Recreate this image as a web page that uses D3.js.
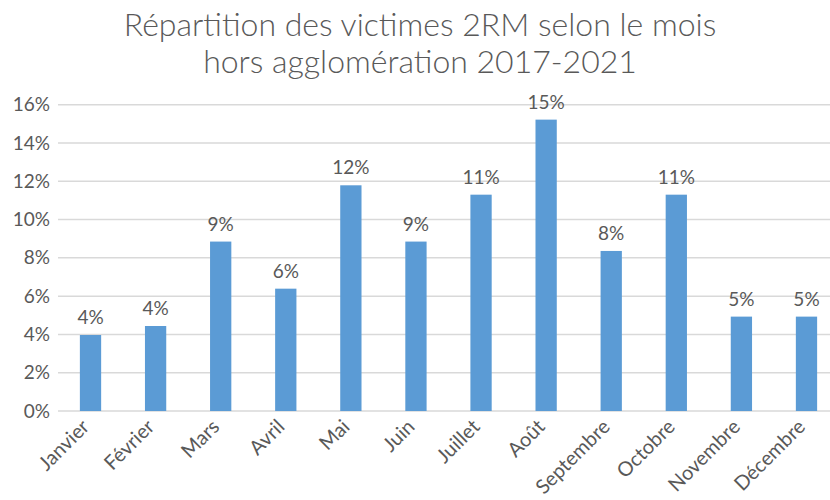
<!DOCTYPE html>
<html>
<head>
<meta charset="utf-8">
<script src="https://cdn.jsdelivr.net/npm/d3@7"></script>
<style>
  body { margin: 0; background: #fff; }
  svg text { font-family: Lato, "Open Sans", sans-serif; fill: #595959; }
</style>
</head>
<body>
<div class="chart"></div>
<script>
var months = ["Janvier", "Février", "Mars", "Avril", "Mai", "Juin", "Juillet", "Août",
  "Septembre", "Octobre", "Novembre", "Décembre"];
var shares = [3.97, 4.44, 8.85, 6.39, 11.79, 8.85, 11.3, 15.22, 8.36, 11.3, 4.93, 4.93];
var yTicks = [0, 2, 4, 6, 8, 10, 12, 14, 16];
var titleLines = ["Répartition des victimes 2RM selon le mois", "hors agglomération 2017-2021"];

var svgWidth = 830;
var svgHeight = 500;

var svg = d3.select(".chart")
  .append("svg")
  .attr("width", svgWidth)
  .attr("height", svgHeight);

// plot area runs past the right edge, like the cropped original
var xScale = d3.scaleBand()
  .domain(months)
  .range([58, 839])
  .paddingInner(0.673)
  .paddingOuter(0.336);

var yScale = d3.scaleLinear()
  .domain([0, 16])
  .range([411, 104.7]);

// title
svg.append("text")
  .attr("x", 420)
  .attr("y", 36)
  .attr("text-anchor", "middle")
  .attr("font-size", "32px")
  .attr("font-weight", 300)
  .selectAll("tspan")
  .data(titleLines)
  .enter()
  .append("tspan")
  .attr("x", 420)
  .attr("dy", (d, i) => i === 0 ? 0 : 37)
  .text(d => d);

// gridlines
svg.append("g")
  .selectAll("line")
  .data(yTicks)
  .enter()
  .append("line")
  .attr("x1", 58)
  .attr("x2", 839)
  .attr("y1", d => yScale(d))
  .attr("y2", d => yScale(d))
  .attr("stroke", "#d9d9d9")
  .attr("stroke-width", 1.5);

// y axis labels
var leftAxis = d3.axisLeft(yScale)
  .tickValues(yTicks)
  .tickFormat(d => d + "%")
  .tickSize(0)
  .tickPadding(8);

var yAxisG = svg.append("g")
  .attr("transform", "translate(58,0)")
  .call(leftAxis);
yAxisG.select(".domain").remove();
yAxisG.selectAll("text")
  .attr("font-size", "19px")
  .attr("font-family", null)
  .attr("fill", "#595959");

// bars
svg.append("g")
  .selectAll("rect")
  .data(shares)
  .enter()
  .append("rect")
  .attr("x", (d, i) => xScale(months[i]))
  .attr("y", d => yScale(d))
  .attr("width", xScale.bandwidth())
  .attr("height", d => yScale(0) - yScale(d))
  .attr("fill", "#5b9bd5");

// data labels
svg.append("g")
  .selectAll("text")
  .data(shares)
  .enter()
  .append("text")
  .attr("x", (d, i) => xScale(months[i]) + xScale.bandwidth() / 2)
  .attr("y", d => yScale(d) - 11)
  .attr("text-anchor", "middle")
  .attr("font-size", "19px")
  .text(d => Math.round(d) + "%");

// x axis labels, rotated
var bottomAxis = d3.axisBottom(xScale).tickSize(0).tickPadding(0);
var xAxisG = svg.append("g")
  .attr("transform", "translate(0,411)")
  .call(bottomAxis);
xAxisG.select(".domain").remove();
xAxisG.selectAll("text")
  .attr("font-size", "20px")
  .attr("font-family", null)
  .attr("fill", "#595959")
  .attr("text-anchor", "end")
  .attr("dy", null)
  .attr("y", 0)
  .attr("transform", "translate(0,17) rotate(-45)");
</script>
</body>
</html>
